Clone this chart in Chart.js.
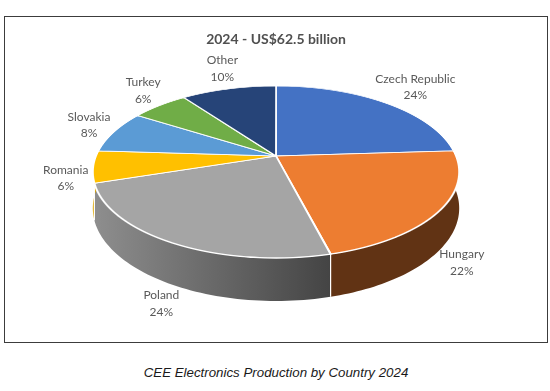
<!DOCTYPE html>
<html>
<head>
<meta charset="utf-8">
<script src="https://cdn.jsdelivr.net/npm/chart.js@4.4.1/dist/chart.umd.min.js"></script>
<style>
  html, body { margin: 0; padding: 0; background: #fff; }
  body { width: 550px; height: 391px; position: relative; overflow: hidden; }
  #frame { position: absolute; left: 4px; top: 16px; width: 542px; height: 325px; border: 1px solid #3c3c3c; }
  #frame canvas { display: block; }
  #caption { position: absolute; left: 0; top: 365px; width: 552px; line-height: 16px; text-align: center;
             font: italic 13.3px "Liberation Sans", Arial, sans-serif; color: #1a1a1a; }
</style>
</head>
<body>
<div id="frame"><canvas id="pie" width="542" height="325"></canvas></div>
<div id="caption">CEE Electronics Production by Country 2024</div>
<script>
const chartTitle = '2024 - US$62.5 billion';
const countries = ['Czech Republic', 'Hungary', 'Poland', 'Romania', 'Slovakia', 'Turkey', 'Other'];
const shares = [24, 22, 24, 6, 8, 6, 10];
const sliceColors = ['#4472C4', '#ED7D31', '#A5A5A5', '#FFC000', '#5B9BD5', '#70AD47', '#264478'];

// projected 3d disc: apex, half width, far / near half heights, wall depth (canvas px)
const view = { cx: 271, cy: 139, rx: 180, far: 70, near: 102, depth: 35 };
const persp = (view.near - view.far) / (view.near + view.far);
const lift = view.far * (1 + persp);

// t is the canvas angle of the pie, h the drop below the top face
function project(t, h) {
  const X = Math.cos(t), Z = -Math.sin(t);
  const w = 1 + persp * Z;
  return { x: view.cx + view.rx * X / w, y: view.cy - lift * Z / w + h / w };
}

function zOfRow(v) {
  return -v / (lift + persp * v);
}

function shade(hex, f) {
  const n = parseInt(hex.slice(1), 16);
  const r = Math.round(((n >> 16) & 255) * f), g = Math.round(((n >> 8) & 255) * f), b = Math.round((n & 255) * f);
  return `rgb(${r},${g},${b})`;
}

// side light: brighter on the left, dark from the front-right on
function light(x) {
  const u = (x - (view.cx - view.rx)) / (2 * view.rx);
  return u < 0.64 ? 0.86 - 0.41 * Math.max(u, 0) / 0.64 : 0.41;
}

function drawWalls(ctx, arcs) {
  arcs.forEach((arc, i) => {
    const s = Math.max(arc.startAngle, 0), e = Math.min(arc.endAngle, Math.PI);
    if (e <= s) return;
    const steps = 60;
    ctx.beginPath();
    for (let k = 0; k <= steps; k++) {
      const p = project(s + (e - s) * k / steps, 0);
      k ? ctx.lineTo(p.x, p.y) : ctx.moveTo(p.x, p.y);
    }
    for (let k = steps; k >= 0; k--) {
      const p = project(s + (e - s) * k / steps, view.depth);
      ctx.lineTo(p.x, p.y);
    }
    ctx.closePath();
    const x0 = Math.min(project(s, 0).x, project(e, 0).x, view.cx - view.rx);
    const xa = Math.max(Math.min(project(s, 0).x, project(e, 0).x), view.cx - view.rx - 5);
    const xb = Math.max(project(s, 0).x, project(e, 0).x, project(Math.PI / 2, 0).x);
    const grad = ctx.createLinearGradient(xa, 0, xb, 0);
    grad.addColorStop(0, shade(sliceColors[i], light(xa)));
    grad.addColorStop(1, shade(sliceColors[i], light(xb)));
    ctx.fillStyle = grad;
    ctx.fill();
  });
  // white seams where slices meet on the wall
  ctx.strokeStyle = '#fff';
  ctx.lineWidth = 1.2;
  arcs.forEach(arc => {
    const t = arc.startAngle;
    if (t > 0.05 && t < Math.PI - 0.05) {
      const a = project(t, 0), b = project(t, view.depth);
      ctx.beginPath(); ctx.moveTo(a.x, a.y); ctx.lineTo(b.x, b.y); ctx.stroke();
    }
  });
}

// redraw the library's arcs row by row, each row with its own perspective scale
function drawTop(ctx, arcs, width) {
  const ox = arcs[0].x, oy = arcs[0].y, R = arcs[0].outerRadius;
  const top = Math.floor(view.cy - view.far) - 3, bottom = Math.ceil(view.cy + view.near) + 3;
  for (let y0 = top; y0 < bottom; y0++) {
    const y1 = y0 + 1;
    const za = zOfRow(y0 - view.cy), zb = zOfRow(y1 - view.cy), zm = zOfRow(y0 + 0.5 - view.cy);
    const a = view.rx / (R * (1 + persp * zm));
    const k = (y1 - y0) / (zb - za);
    ctx.save();
    ctx.beginPath();
    ctx.rect(0, y0, width, 1);
    ctx.clip();
    ctx.transform(a, 0, 0, -k / R, view.cx - a * ox, y0 + k * (oy / R - za));
    arcs.forEach(arc => arc.draw(ctx));
    ctx.restore();
  }
}

function drawLabels(ctx, arcs) {
  const total = shares.reduce((a, b) => a + b, 0);
  const lineH = 16.5, pad = 5;
  ctx.font = '12px Lato';
  ctx.fillStyle = '#595959';
  ctx.textAlign = 'center';
  ctx.textBaseline = 'middle';
  arcs.forEach((arc, i) => {
    const t = (arc.startAngle + arc.endAngle) / 2;
    const lines = [countries[i], Math.round(shares[i] / total * 100) + '%'];
    const w = Math.max(...lines.map(l => ctx.measureText(l).width));
    const h = lines.length * lineH;
    const c = Math.cos(t), s = Math.sin(t);
    const p = project(t, view.depth * Math.min(1, Math.max(0, s * 2)));
    const x = p.x + c * (w / 2 + pad), y = p.y + s * (h / 2 + pad);
    lines.forEach((l, j) => ctx.fillText(l, x, y + (j - (lines.length - 1) / 2) * lineH));
  });
}

const pie3d = {
  id: 'pie3d',
  beforeDatasetsDraw(chart) {
    const ctx = chart.ctx;
    const arcs = chart.getDatasetMeta(0).data;
    ctx.save();
    drawWalls(ctx, arcs);
    drawTop(ctx, arcs, chart.width);
    drawLabels(ctx, arcs);
    ctx.restore();
    return false;
  }
};

new Chart(document.getElementById('pie'), {
  type: 'pie',
  data: {
    labels: countries,
    datasets: [{
      data: shares,
      backgroundColor: sliceColors,
      borderColor: '#ffffff',
      borderWidth: 1.5,
      hoverOffset: 0
    }]
  },
  options: {
    responsive: false,
    animation: false,
    events: [],
    plugins: {
      legend: { display: false },
      tooltip: { enabled: false },
      title: {
        display: true,
        text: chartTitle,
        color: '#505050',
        font: { family: 'Lato', size: 14, weight: 'bold' },
        padding: { top: 14, bottom: 4 }
      }
    }
  },
  plugins: [pie3d]
});
</script>
</body>
</html>
